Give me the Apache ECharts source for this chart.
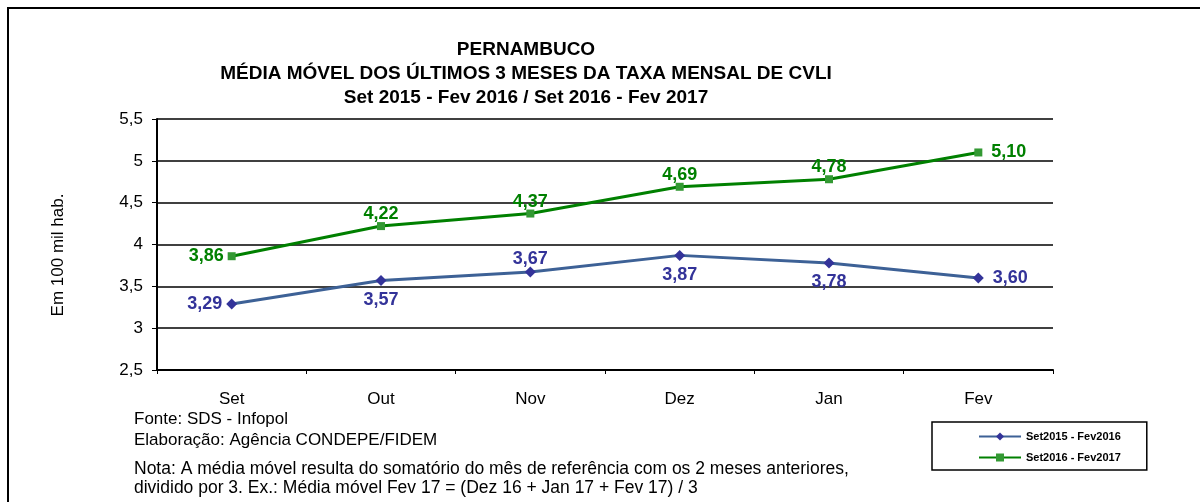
<!DOCTYPE html>
<html>
<head>
<meta charset="utf-8">
<script src="https://cdn.jsdelivr.net/npm/echarts@6/dist/echarts.min.js"></script>
<style>
  html, body { margin: 0; padding: 0; background: #fff; }
  #chart { width: 1200px; height: 502px; }
</style>
</head>
<body>
<div id="chart"></div>
<script>
const months = ['Set', 'Out', 'Nov', 'Dez', 'Jan', 'Fev'];
const serie2016 = [3.29, 3.57, 3.67, 3.87, 3.78, 3.60];
const serie2017 = [3.86, 4.22, 4.37, 4.69, 4.78, 5.10];
// where each value label sits
const pos2016 = ['left', 'bottom', 'top', 'bottom', 'bottom', 'right'];
const pos2017 = ['left', 'top', 'top', 'top', 'top', 'right'];

const font = 'Liberation Sans, Arial, sans-serif';
const comma = v => String(v).replace('.', ',');
const fmt2 = p => p.value.toFixed(2).replace('.', ',');

function buildData(values, positions) {
  const gap = { left: 4, right: 9, top: -1, bottom: 5 };
  return values.map((v, i) => ({
    value: v,
    label: { position: positions[i], distance: gap[positions[i]] }
  }));
}

const chart = echarts.init(document.getElementById('chart'));
chart.setOption({
  animation: false,
  textStyle: { fontFamily: font },
  title: [
    {
      text: 'PERNAMBUCO\nMÉDIA MÓVEL DOS ÚLTIMOS 3 MESES DA TAXA MENSAL DE CVLI\nSet 2015 - Fev 2016 / Set 2016 - Fev 2017',
      left: 521, top: 33, textAlign: 'center',
      textStyle: { fontSize: 19, fontWeight: 'bold', color: '#000', lineHeight: 24, fontFamily: font }
    },
    {
      text: 'Fonte: SDS - Infopol\nElaboração: Agência CONDEPE/FIDEM',
      left: 129, top: 404,
      textStyle: { fontSize: 17, fontWeight: 'normal', color: '#000', lineHeight: 21, fontFamily: font }
    },
    {
      text: 'Nota: A média móvel resulta do somatório do mês de referência com os 2 meses anteriores,\ndividido por 3. Ex.: Média móvel Fev 17 = (Dez 16 + Jan 17 + Fev 17) / 3',
      left: 129, top: 455,
      textStyle: { fontSize: 17.5, fontWeight: 'normal', color: '#000', lineHeight: 19, fontFamily: font }
    }
  ],
  graphic: [
    { type: 'rect', shape: { x: 8, y: 8, width: 1200, height: 510 }, style: { fill: null, stroke: '#000', lineWidth: 2 } },
    {
      type: 'text', x: 58, y: 255, rotation: Math.PI / 2,
      style: { text: 'Em 100 mil hab.', font: '17px ' + font, fill: '#000', align: 'center', verticalAlign: 'middle' }
    }
  ],
  legend: {
    left: 932, top: 422,
    orient: 'vertical',
    itemWidth: 42, itemHeight: 10, itemGap: 10,
    padding: [9, 26, 7, 46],
    borderColor: '#000', borderWidth: 1.5,
    backgroundColor: '#fff',
    textStyle: { fontSize: 11, fontWeight: 'bold', color: '#000', fontFamily: font },
    data: ['Set2015 - Fev2016', 'Set2016 - Fev2017']
  },
  grid: { left: 157, right: 147, top: 119, bottom: 132 },
  xAxis: {
    type: 'category',
    data: months,
    boundaryGap: true,
    axisLine: { lineStyle: { color: '#000', width: 2 } },
    axisTick: { show: true, length: 4, lineStyle: { color: '#000' } },
    axisLabel: { color: '#000', fontSize: 17, margin: 21, fontFamily: font }
  },
  yAxis: {
    type: 'value',
    min: 2.5, max: 5.5, interval: 0.5,
    axisLine: { show: true, lineStyle: { color: '#000', width: 2 } },
    axisTick: { show: true, length: 5, lineStyle: { color: '#000' } },
    axisLabel: { color: '#000', fontSize: 17, margin: 14, formatter: comma, fontFamily: font },
    splitLine: { lineStyle: { color: '#000', width: 1.5 } }
  },
  series: [
    {
      name: 'Set2015 - Fev2016',
      type: 'line',
      data: buildData(serie2016, pos2016),
      symbol: 'diamond',
      symbolSize: 11,
      lineStyle: { color: '#3d6196', width: 3 },
      itemStyle: { color: '#333399' },
      label: { show: true, formatter: fmt2, color: '#333399', fontSize: 18, fontWeight: 'bold', fontFamily: font }
    },
    {
      name: 'Set2016 - Fev2017',
      type: 'line',
      data: buildData(serie2017, pos2017),
      symbol: 'rect',
      symbolSize: 8,
      lineStyle: { color: '#008000', width: 3 },
      itemStyle: { color: '#339933' },
      label: { show: true, formatter: fmt2, color: '#008000', fontSize: 18, fontWeight: 'bold', fontFamily: font }
    }
  ]
});
</script>
</body>
</html>
